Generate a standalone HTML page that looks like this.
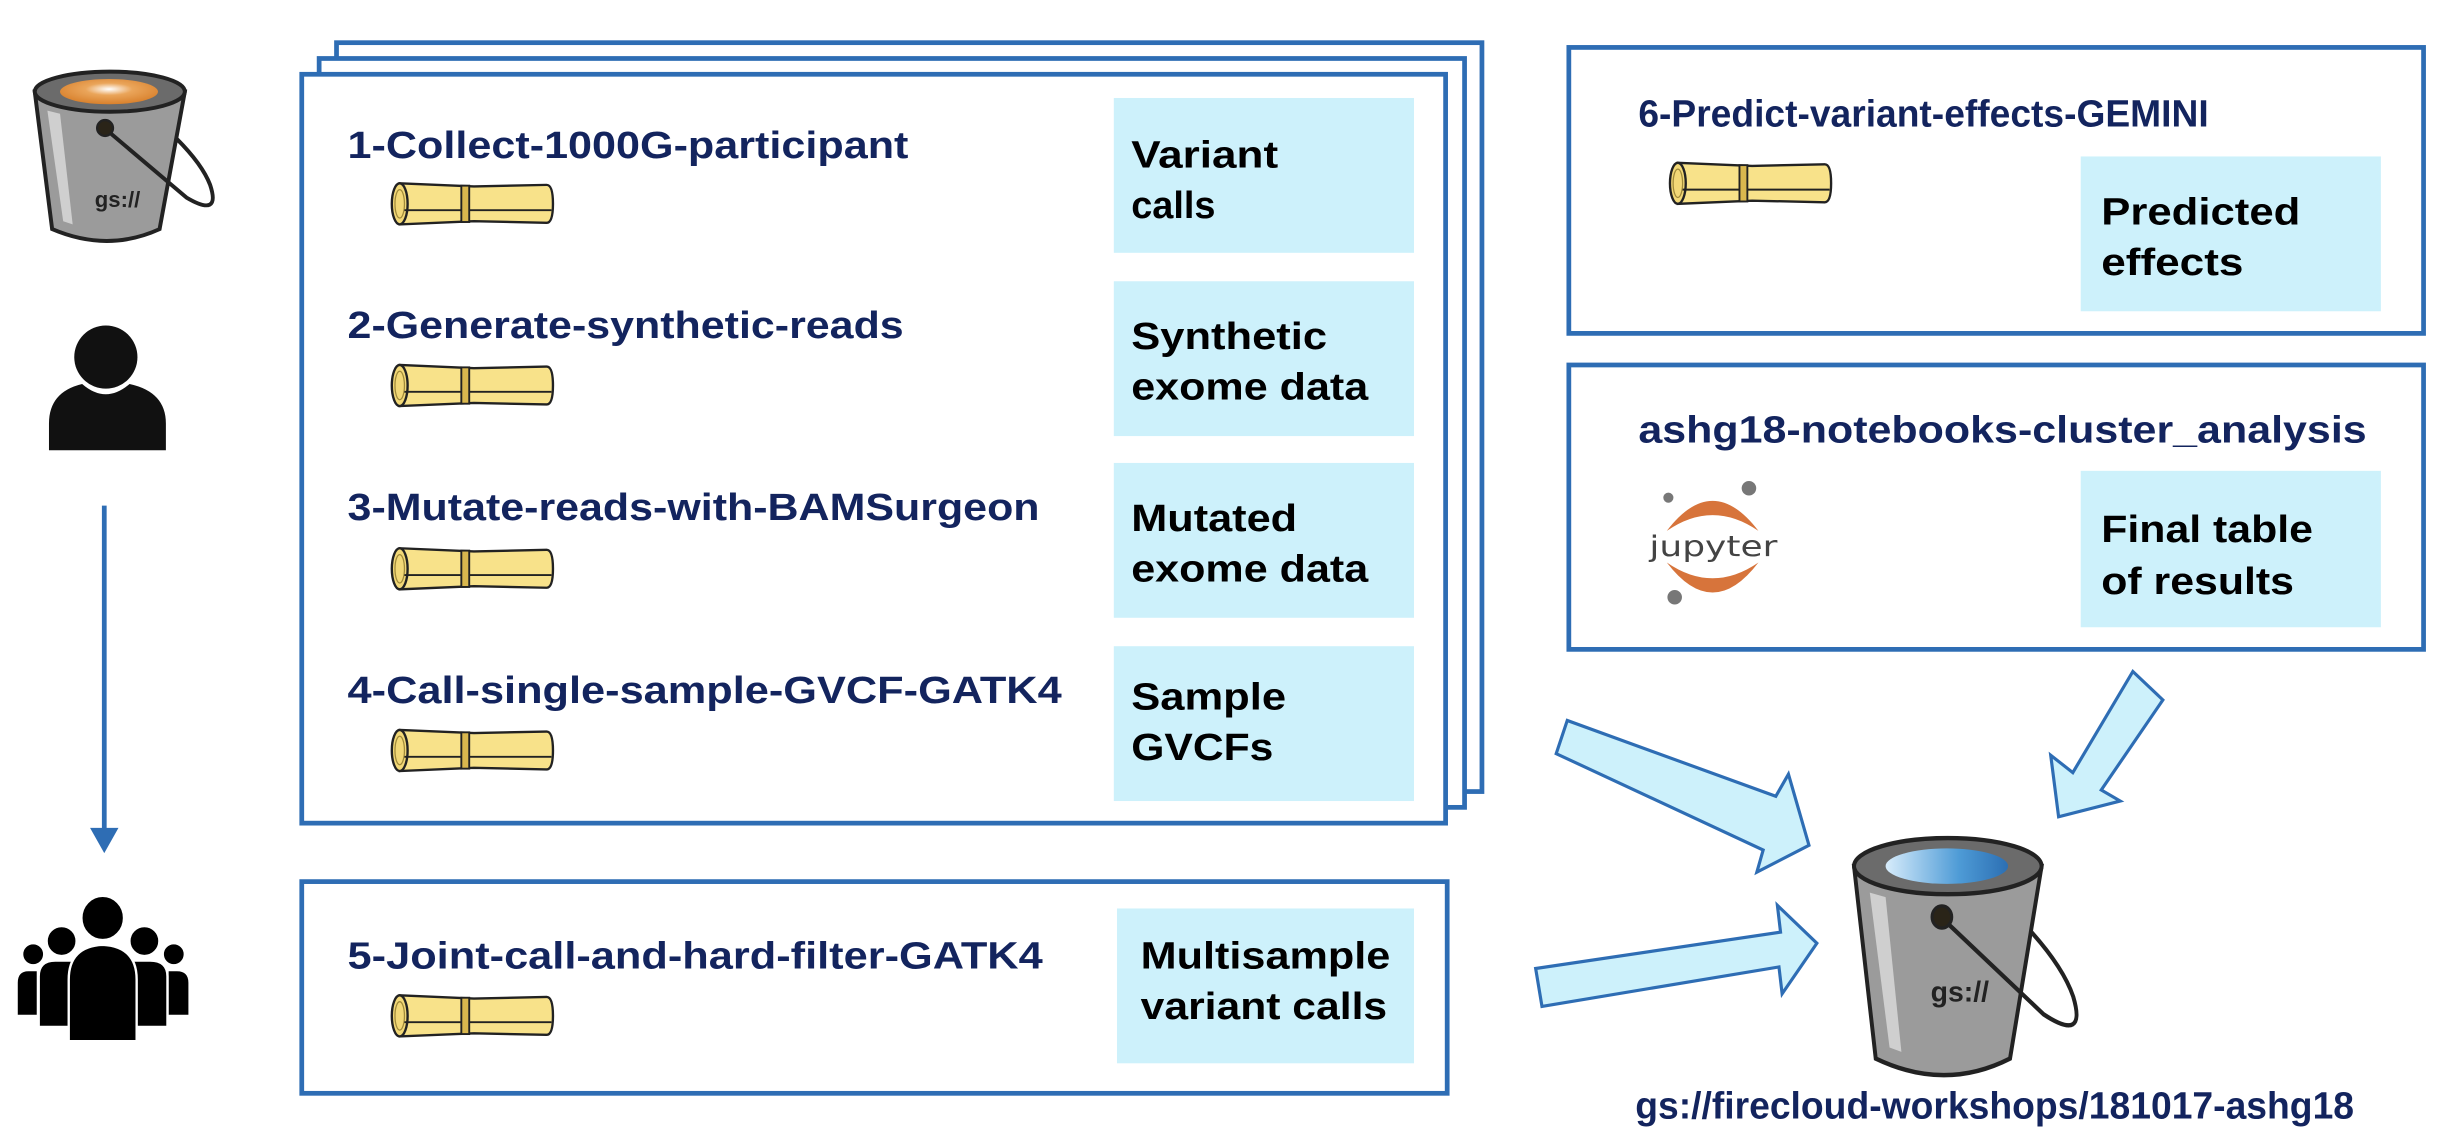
<!DOCTYPE html>
<html><head><meta charset="utf-8"><style>
html,body{margin:0;padding:0;background:#fff;}
svg{display:block;}
.t{font-family:"Liberation Sans",sans-serif;font-weight:bold;fill:#13245e;font-size:24px;}
.b{font-family:"Liberation Sans",sans-serif;font-weight:bold;fill:#000;font-size:24px;}
</style></head><body>
<svg width="2452" height="1136" viewBox="0 0 1552 719" xmlns="http://www.w3.org/2000/svg">
<defs>
<g id="scroll">
<path d="M5 0 L52 2 L98 1 Q102 1 102 13 Q102 25 98 25 L52 24 L5 26 Z" fill="#f8e28a" stroke="#222" stroke-width="1.5"/>
<ellipse cx="5" cy="13" rx="5" ry="13" fill="#f2d877" stroke="#222" stroke-width="1.5"/>
<ellipse cx="5" cy="13" rx="3" ry="9" fill="none" stroke="#a08a3a" stroke-width="0.8"/>
<rect x="44" y="1.5" width="5" height="23" fill="#d9b74e" stroke="#222" stroke-width="1.2"/>
<line x1="8" y1="17" x2="44" y2="17" stroke="#222" stroke-width="1.2"/>
<line x1="49" y1="17" x2="101" y2="17" stroke="#222" stroke-width="1.2"/>
</g>
<radialGradient id="og" cx="0.5" cy="0.4" r="0.6"><stop offset="0" stop-color="#fff"/><stop offset="0.4" stop-color="#eaa55a"/><stop offset="1" stop-color="#d8802c"/></radialGradient>
<linearGradient id="bg" x1="0" x2="1"><stop offset="0" stop-color="#d7ecfb"/><stop offset="0.6" stop-color="#4e9bd6"/><stop offset="1" stop-color="#2c6fb3"/></linearGradient>
</defs>

<!-- top-left bucket -->
<g>
<path d="M22 58 L33 145 Q68 160 101 145 L117 58 Z" fill="#9b9b9b" stroke="#222" stroke-width="2.5"/>
<path d="M30 70 L40 140 L46 142 L38 72 Z" fill="#cfcfcf"/>
<ellipse cx="69.5" cy="58" rx="47.5" ry="12.7" fill="#6b6b6b" stroke="#222" stroke-width="2.5"/>
<ellipse cx="69" cy="58" rx="31" ry="8" fill="url(#og)"/>
<path d="M66 81 L118 125 Q140 138 133 117 Q128 104 112 88" fill="none" stroke="#222" stroke-width="2.5"/>
<circle cx="66.5" cy="81" r="5" fill="#2a2418" stroke="#222" stroke-width="1.5"/>
<text x="60" y="131" font-family="Liberation Sans,sans-serif" font-weight="bold" font-size="14" fill="#222">gs://</text>
</g>

<!-- person -->
<circle cx="67" cy="226" r="20" fill="#111"/>
<path d="M31 285 L31 268 Q31 248 52 243 Q67 256 82 243 Q105 248 105 268 L105 285 Z" fill="#111"/>

<!-- vertical arrow -->
<line x1="66" y1="320" x2="66" y2="528" stroke="#2e6db4" stroke-width="3"/>
<path d="M57 524 L75 524 L66 540 Z" fill="#2e6db4"/>

<!-- group icon -->
<g fill="#000" stroke="#fff" stroke-width="1.5">
<circle cx="21" cy="604" r="7"/><circle cx="110" cy="604" r="7"/>
<path d="M10.5 643 L10.5 622 Q10.5 614 18 614 L24 614 L24 643 Z"/>
<path d="M120 643 L120 622 Q120 614 112 614 L106 614 L106 643 Z"/>
<circle cx="39" cy="595.6" r="9.5"/><circle cx="91.4" cy="595.6" r="9.5"/>
<path d="M24.5 650 L24.5 618 Q24.5 608 35 608 L46 608 L46 650 Z"/>
<path d="M106 650 L106 618 Q106 608 95 608 L84 608 L84 650 Z"/>
<ellipse cx="65" cy="581" rx="13.5" ry="14"/>
<path d="M43.5 659 L43.5 620 Q43.5 599 65 598 Q86.5 599 86.5 620 L86.5 659 Z"/>
</g>

<!-- stacked main box -->
<rect x="213" y="27" width="725" height="474" fill="#fff" stroke="#2e6db4" stroke-width="3"/>
<rect x="202" y="37" width="725" height="474" fill="#fff" stroke="#2e6db4" stroke-width="3"/>
<rect x="191" y="47" width="724" height="474" fill="#fff" stroke="#2e6db4" stroke-width="3"/>

<rect x="705" y="62" width="190" height="98" fill="#cdf1fb"/>
<rect x="705" y="178" width="190" height="98" fill="#cdf1fb"/>
<rect x="705" y="293" width="190" height="98" fill="#cdf1fb"/>
<rect x="705" y="409" width="190" height="98" fill="#cdf1fb"/>

<text class="t" x="220" y="100" textLength="355" lengthAdjust="spacingAndGlyphs">1-Collect-1000G-participant</text>
<text class="t" x="220" y="214" textLength="352" lengthAdjust="spacingAndGlyphs">2-Generate-synthetic-reads</text>
<text class="t" x="220" y="329" textLength="438" lengthAdjust="spacingAndGlyphs">3-Mutate-reads-with-BAMSurgeon</text>
<text class="t" x="220" y="445" textLength="452" lengthAdjust="spacingAndGlyphs">4-Call-single-sample-GVCF-GATK4</text>
<use href="#scroll" x="248" y="116"/>
<use href="#scroll" x="248" y="231"/>
<use href="#scroll" x="248" y="347"/>
<use href="#scroll" x="248" y="462"/>

<text class="b" x="716" y="106" textLength="93" lengthAdjust="spacingAndGlyphs">Variant</text>
<text class="b" x="716" y="138">calls</text>
<text class="b" x="716" y="221" textLength="124" lengthAdjust="spacingAndGlyphs">Synthetic</text>
<text class="b" x="716" y="253" textLength="150" lengthAdjust="spacingAndGlyphs">exome data</text>
<text class="b" x="716" y="336" textLength="105" lengthAdjust="spacingAndGlyphs">Mutated</text>
<text class="b" x="716" y="368" textLength="150" lengthAdjust="spacingAndGlyphs">exome data</text>
<text class="b" x="716" y="449" textLength="98" lengthAdjust="spacingAndGlyphs">Sample</text>
<text class="b" x="716" y="481" textLength="90" lengthAdjust="spacingAndGlyphs">GVCFs</text>

<!-- box 5 -->
<rect x="191" y="558" width="725" height="134" fill="#fff" stroke="#2e6db4" stroke-width="3"/>
<rect x="707" y="575" width="188" height="98" fill="#cdf1fb"/>
<text class="t" x="220" y="613" textLength="440" lengthAdjust="spacingAndGlyphs">5-Joint-call-and-hard-filter-GATK4</text>
<use href="#scroll" x="248" y="630"/>
<text class="b" x="722" y="613" textLength="158" lengthAdjust="spacingAndGlyphs">Multisample</text>
<text class="b" x="722" y="645" textLength="156" lengthAdjust="spacingAndGlyphs">variant calls</text>

<!-- box 6 -->
<rect x="993" y="30" width="541" height="181" fill="#fff" stroke="#2e6db4" stroke-width="3"/>
<rect x="1317" y="99" width="190" height="98" fill="#cdf1fb"/>
<text class="t" x="1037" y="80" textLength="361" lengthAdjust="spacingAndGlyphs">6-Predict-variant-effects-GEMINI</text>
<use href="#scroll" x="1057" y="103"/>
<text class="b" x="1330" y="142" textLength="126" lengthAdjust="spacingAndGlyphs">Predicted</text>
<text class="b" x="1330" y="174" textLength="90" lengthAdjust="spacingAndGlyphs">effects</text>

<!-- notebook box -->
<rect x="993" y="231" width="541" height="180" fill="#fff" stroke="#2e6db4" stroke-width="3"/>
<rect x="1317" y="298" width="190" height="99" fill="#cdf1fb"/>
<text class="t" x="1037" y="280" textLength="461" lengthAdjust="spacingAndGlyphs">ashg18-notebooks-cluster_analysis</text>
<text class="b" x="1330" y="343" textLength="134" lengthAdjust="spacingAndGlyphs">Final table</text>
<text class="b" x="1330" y="376" textLength="122" lengthAdjust="spacingAndGlyphs">of results</text>
<!-- jupyter -->
<path d="M1055 336 Q1084 298 1113 336 Q1084 316 1055 336 Z" fill="#d7743b"/>
<path d="M1055 356 Q1084 394 1113 356 Q1084 376 1055 356 Z" fill="#d7743b"/>
<circle cx="1056" cy="315" r="3.2" fill="#777"/>
<circle cx="1107" cy="309" r="4.6" fill="#777"/>
<circle cx="1060" cy="378" r="4.6" fill="#777"/>
<text x="1044" y="352" font-family="DejaVu Sans,sans-serif" font-size="18" fill="#444" textLength="81" lengthAdjust="spacingAndGlyphs">jupyter</text>

<!-- block arrows -->
<polygon points="992,456 985,477 1116,538 1112,552 1145,535 1132,490 1124,504" fill="#cdf1fb" stroke="#2e6db4" stroke-width="2"/>
<polygon points="972,613 976,637 1126,612 1128,629 1150,597 1125,573 1127,590" fill="#cdf1fb" stroke="#2e6db4" stroke-width="2"/>
<polygon points="1350,425 1369,443 1330,500 1342,507 1303,517 1298,478 1312,489" fill="#cdf1fb" stroke="#2e6db4" stroke-width="2"/>

<!-- blue bucket -->
<g transform="translate(1146,467) scale(1.25,1.4)">
<path d="M22 58 L33 145 Q68 160 101 145 L117 58 Z" fill="#9b9b9b" stroke="#222" stroke-width="2"/>
<path d="M30 70 L40 140 L46 142 L38 72 Z" fill="#cfcfcf"/>
<ellipse cx="69.5" cy="58" rx="47.5" ry="12.7" fill="#6b6b6b" stroke="#222" stroke-width="2"/>
<ellipse cx="69" cy="58" rx="31" ry="8" fill="url(#bg)"/>
<path d="M66 81 L118 125 Q140 138 133 117 Q128 104 112 88" fill="none" stroke="#222" stroke-width="2"/>
<circle cx="66.5" cy="81" r="5" fill="#2a2418" stroke="#222" stroke-width="1.5"/>
</g>
<text x="1222" y="634" font-family="Liberation Sans,sans-serif" font-weight="bold" font-size="18" fill="#222">gs://</text>

<text class="t" x="1035" y="708" textLength="455" lengthAdjust="spacingAndGlyphs">gs://firecloud-workshops/181017-ashg18</text>
</svg>
</body></html>
